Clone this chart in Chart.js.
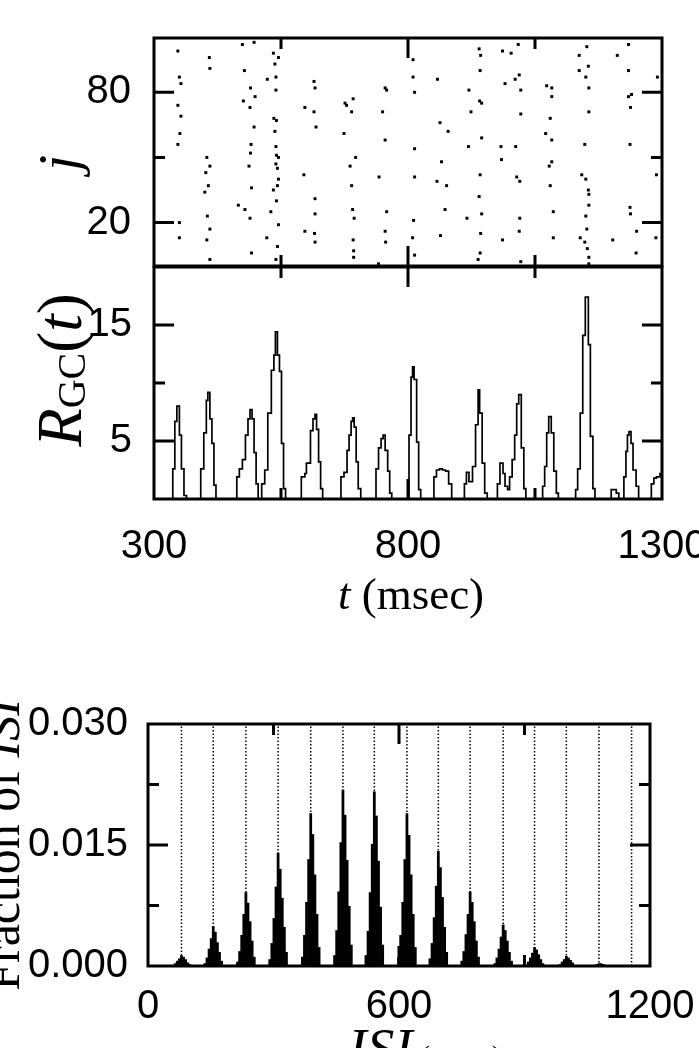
<!DOCTYPE html>
<html>
<head>
<meta charset="utf-8">
<script src="https://cdn.jsdelivr.net/npm/chart.js@4.4.1/dist/chart.umd.min.js"></script>
<style>
  html, body { margin: 0; padding: 0; background: #fff; }
  #page { position: relative; width: 699px; height: 1048px; overflow: hidden; }
  canvas { position: absolute; left: 0; }
</style>
</head>
<body>
<div id="page">
  <canvas id="c-raster" width="699" height="270" style="top:0"></canvas>
  <canvas id="c-rate" width="699" height="400" style="top:240px"></canvas>
  <canvas id="c-isi" width="699" height="358" style="top:690px"></canvas>
</div>
<script>
// ─── axis ranges and ticks ────────────────────────────────────────────────
const tRange      = [300, 1300];
const jRange      = [0, 105];
const rRange      = [0, 20];
const isiRange    = [0, 1200];
const fracRange   = [0, 0.03];

const tTickLabels    = [300, 800, 1300];
const tMinorTicks    = [550, 1050];
const jTickLabels    = [20, 80];
const jMinorTicks    = [50];
const rTickLabels    = [5, 15];
const rMinorTicks    = [10];
const isiTickLabels  = [0, 600, 1200];
const isiMinorTicks  = [300, 900];
const fracTickLabels = [0, 0.015, 0.03];
const fracMinorTicks = [0.0075, 0.0225];

// ─── raster: [t (msec), neuron j] ─────────────────────────────────────────
const spikes = [
  [347,99],[350,87],[353,84],[347,74],[353,69],[351,61],[347,56],[350,20],[350,13],
  [409,96],[410,91],[404,50],[410,46],[402,43],[407,37],[400,34],[405,23],[410,17],[404,12],[410,3],
  [474,102],[497,103],[478,90],[490,82],[499,78],[476,76],[489,73],[497,64],[491,56],[490,52],
  [487,46],[492,36],[466,28],[479,26],[489,22],[492,6],
  [535,98],[545,96],[538,93],[523,86],[540,87],[540,81],[536,68],[541,67],[538,62],[540,55],
  [541,51],[545,50],[540,47],[543,45],[545,40],[535,35],[543,37],[541,30],[530,25],[545,19],
  [522,13],[543,9],[540,3],
  [615,85],[617,82],[597,73],[615,71],[619,64],[595,42],[617,31],[617,24],[597,16],[616,15],[617,11],
  [692,77],[676,75],[679,74],[689,71],[674,61],[697,50],[686,46],[689,37],[691,26],[694,22],
  [692,12],[693,7],[693,4],
  [755,82],[758,81],[750,71],[755,58],[743,41],[758,25],[755,16],[756,11],[742,1],
  [810,95],[810,87],[813,80],[813,54],[813,41],[811,21],[809,13],[813,5],
  [858,86],[863,66],[879,62],[866,48],[857,39],[876,37],[873,26],[864,14],
  [940,100],[943,97],[942,90],[920,81],[941,76],[945,75],[924,71],[945,59],[919,55],[942,42],
  [940,32],[945,24],[916,22],[943,15],[942,6],[938,3],
  [986,99],[1003,98],[1017,102],[1019,88],[1011,86],[991,84],[1022,81],[1022,70],[983,55],[1012,55],
  [984,49],[1014,41],[1020,39],[1020,22],[1019,16],[986,12],[1022,2],
  [1073,83],[1083,82],[1083,78],[1080,68],[1071,61],[1083,58],[1083,48],[1078,46],[1080,37],
  [1086,25],[1086,13],
  [1152,101],[1137,97],[1155,92],[1137,90],[1150,87],[1156,82],[1156,71],[1148,56],[1142,42],
  [1150,40],[1155,35],[1156,33],[1156,28],[1150,23],[1152,17],[1139,13],[1148,11],[1153,8],
  [1156,4],[1156,1],
  [1234,102],[1212,97],[1234,90],[1234,78],[1240,79],[1238,73],[1237,56],[1237,27],[1238,24],
  [1203,12],[1250,16],[1249,6],
  [1291,87],[1289,42],[1288,13]
];

// ─── R_GC(t): [t, value held until next t] ────────────────────────────────
const rate = [
  [300,0],
  [337,2.6],[341,6.7],[345,8.0],[350,5.5],[354,2.6],[359,0.3],[364,0],
  [392,2.6],[398,5.7],[403,8.5],[406,9.2],[410,6.9],[414,4.8],[418,1.2],[422,0],
  [463,1.9],[468,2.6],[474,3.4],[480,5.5],[485,6.9],[489,7.7],[493,6.9],[497,4.0],[501,1.3],[505,0],
  [512,1.3],[518,2.5],[524,7.4],[531,11.1],[536,12.4],[539,14.4],[543,12.4],[547,11.0],[551,4.8],[555,0.9],[559,0],
  [590,1.9],[597,2.2],[600,3.1],[608,5.9],[613,6.9],[617,7.3],[620,6.0],[624,3.2],[628,0.9],[632,0],
  [668,1.9],[674,2.3],[680,4.2],[684,5.5],[688,6.7],[691,7.0],[694,6.2],[698,3.2],[702,0.9],[707,0],
  [737,2.6],[742,4.4],[747,5.2],[751,5.5],[755,4.2],[760,2.4],[764,0.5],[768,0],
  [802,5.5],[806,10.5],[809,11.4],[812,10.3],[817,4.9],[821,0.8],[825,0],
  [851,1.9],[856,2.5],[862,2.6],[868,2.5],[874,2.4],[880,1.3],[886,0],
  [911,1.3],[915,2.3],[920,1.5],[927,2.8],[933,6.4],[938,9.4],[941,7.4],[946,3.1],[951,0.5],[956,0],
  [976,1.3],[981,3.1],[987,2.2],[991,1.1],[996,0.8],[1000,1.9],[1005,3.4],[1010,5.5],[1014,8.2],
  [1018,9.0],[1023,4.4],[1028,0.9],[1032,0],
  [1065,1.1],[1069,2.8],[1073,5.7],[1077,7.1],[1082,5.7],[1087,2.4],[1092,0.5],[1096,0],
  [1130,0.8],[1134,2.6],[1139,7.4],[1144,14.1],[1149,17.4],[1155,13.3],[1159,5.4],[1164,0.9],[1168,0],
  [1200,0.8],[1210,0.5],[1215,0],
  [1225,1.9],[1229,4.1],[1232,5.5],[1235,5.8],[1239,4.8],[1243,2.5],[1249,1.1],[1254,0],
  [1279,1.3],[1284,1.8],[1289,1.9],[1296,2.2],[1300,2.2]
];

// ─── ISI histogram ────────────────────────────────────────────────────────
const periodLines    = [80, 156, 234, 311, 389, 466, 541, 619, 694, 770, 849, 924, 1000, 1078, 1156];
const isiPeakCenters = [80, 156, 234, 311, 389, 466, 541, 619, 694, 770, 849, 924, 1000, 1078];
const isiBinOffsets  = [-20, -15, -10, -5, 0, 5, 10, 15, 20];
const isiFractions = [
  [0.0001, 0.0003, 0.0006, 0.0009, 0.0013, 0.0011, 0.0008, 0.0004, 0.0002],
  [0.0003, 0.0010, 0.0021, 0.0034, 0.0049, 0.0042, 0.0029, 0.0017, 0.0006],
  [0.0005, 0.0018, 0.0038, 0.0064, 0.0091, 0.0078, 0.0055, 0.0031, 0.0011],
  [0.0008, 0.0028, 0.0059, 0.0098, 0.0140, 0.0120, 0.0084, 0.0048, 0.0017],
  [0.0011, 0.0038, 0.0079, 0.0132, 0.0189, 0.0163, 0.0113, 0.0064, 0.0023],
  [0.0013, 0.0044, 0.0092, 0.0153, 0.0218, 0.0187, 0.0131, 0.0074, 0.0026],
  [0.0013, 0.0043, 0.0091, 0.0151, 0.0216, 0.0186, 0.0130, 0.0073, 0.0026],
  [0.0011, 0.0038, 0.0079, 0.0132, 0.0189, 0.0162, 0.0113, 0.0064, 0.0023],
  [0.0009, 0.0028, 0.0060, 0.0099, 0.0142, 0.0122, 0.0085, 0.0048, 0.0017],
  [0.0006, 0.0018, 0.0039, 0.0064, 0.0092, 0.0079, 0.0055, 0.0031, 0.0011],
  [0.0003, 0.0010, 0.0021, 0.0036, 0.0051, 0.0044, 0.0031, 0.0017, 0.0006],
  [0.0001, 0.0005, 0.0010, 0.0016, 0.0023, 0.0020, 0.0014, 0.0008, 0.0003],
  [0.0001, 0.0002, 0.0005, 0.0008, 0.0012, 0.0010, 0.0007, 0.0004, 0.0001],
  [0.0000, 0.0001, 0.0001, 0.0002, 0.0003, 0.0003, 0.0002, 0.0001, 0.0000]
];

// ─── shared helpers ───────────────────────────────────────────────────────
const SANS  = '"Liberation Sans", Arial, sans-serif';
const SERIF = '"Liberation Serif", "Times New Roman", serif';
const tickFont = { family: SANS, size: 40, lineHeight: 1.2 };

// frame + inward ticks on all four sides (gnuplot style)
function framePlugin(cfg) {
  return {
    id: 'frame',
    afterDatasetsDraw(chart) {
      const { ctx, chartArea: a, scales: { x, y } } = chart;
      ctx.save();
      ctx.strokeStyle = '#000';
      ctx.lineWidth = 3;
      ctx.strokeRect(a.left, a.top, a.right - a.left, a.bottom - a.top);
      ctx.beginPath();
      const xt = (vals, len) => vals.forEach(v => {
        if (v <= x.min || v >= x.max) return;
        const px = x.getPixelForValue(v);
        ctx.moveTo(px, a.bottom); ctx.lineTo(px, a.bottom - len);
        ctx.moveTo(px, a.top);    ctx.lineTo(px, a.top + len);
      });
      const yt = (vals, len) => vals.forEach(v => {
        if (v <= y.min || v >= y.max) return;
        const py = y.getPixelForValue(v);
        ctx.moveTo(a.left, py);  ctx.lineTo(a.left + len, py);
        ctx.moveTo(a.right, py); ctx.lineTo(a.right - len, py);
      });
      xt(cfg.xMajor, 20); xt(cfg.xMinor, 11);
      yt(cfg.yMajor, 20); yt(cfg.yMinor, 11);
      ctx.stroke();
      ctx.restore();
    }
  };
}

// axis titles with mixed italic / subscript pieces
function titlePlugin(items) {
  return {
    id: 'richTitles',
    afterDraw(chart) {
      const ctx = chart.ctx;
      items.forEach(it => {
        ctx.save();
        ctx.translate(it.x, it.y);
        if (it.rotate) ctx.rotate(it.rotate * Math.PI / 180);
        ctx.fillStyle = '#000';
        ctx.textAlign = 'left';
        ctx.textBaseline = 'alphabetic';
        let w = 0;
        it.parts.forEach(p => { ctx.font = p.font; w += ctx.measureText(p.text).width; });
        let cx = -w / 2;
        it.parts.forEach(p => {
          ctx.font = p.font;
          ctx.fillText(p.text, cx, p.dy || 0);
          cx += ctx.measureText(p.text).width;
        });
        ctx.restore();
      });
    }
  };
}

function yAxis(range, labels, width, pad, fmt) {
  return {
    type: 'linear', min: range[0], max: range[1],
    grid: { display: false, drawTicks: false }, border: { display: false },
    afterBuildTicks: s => { s.ticks = labels.map(v => ({ value: v })); },
    afterFit: s => { s.width = width; s.paddingTop = 0; s.paddingBottom = 0; },
    ticks: { color: '#000', padding: pad, font: tickFont,
             callback: fmt || (v => String(v)) }
  };
}

function xAxis(range, labels, height, pad) {
  return {
    type: 'linear', min: range[0], max: range[1], offset: false,
    grid: { display: false, drawTicks: false }, border: { display: false },
    afterBuildTicks: s => { s.ticks = labels.map(v => ({ value: v })); },
    afterFit: s => { s.height = height; s.paddingLeft = 0; s.paddingRight = 0; },
    ticks: { color: '#000', padding: pad, maxRotation: 0, autoSkip: false, font: tickFont,
             callback: v => String(v) }
  };
}

const baseOpts = {
  responsive: false,
  animation: false,
  events: [],
  plugins: { legend: { display: false }, tooltip: { enabled: false } }
};

// ─── raster plot ──────────────────────────────────────────────────────────
new Chart(document.getElementById('c-raster'), {
  type: 'scatter',
  data: {
    datasets: [{
      data: spikes.map(([t, j]) => ({ x: t, y: j })),
      pointStyle: 'rect', pointRadius: 2.1, backgroundColor: '#000', borderWidth: 0
    }]
  },
  options: {
    ...baseOpts,
    layout: { padding: { top: 38, right: 37, bottom: 3, left: 0 } },
    scales: {
      x: { type: 'linear', min: tRange[0], max: tRange[1], display: false },
      y: yAxis(jRange, jTickLabels, 154, 23)
    }
  },
  plugins: [
    framePlugin({ xMajor: tTickLabels, xMinor: tMinorTicks, yMajor: jTickLabels, yMinor: jMinorTicks }),
    titlePlugin([
      { x: 78, y: 163, rotate: -90, parts: [{ text: 'j', font: `italic 58px ${SERIF}` }] }
    ])
  ]
});

// ─── global rate R_GC(t) ──────────────────────────────────────────────────
new Chart(document.getElementById('c-rate'), {
  type: 'line',
  data: {
    datasets: [{
      data: rate.map(([t, r]) => ({ x: t, y: r })),
      stepped: 'before', borderColor: '#000', borderWidth: 1.7,
      pointRadius: 0, fill: false
    }]
  },
  options: {
    ...baseOpts,
    layout: { padding: { top: 27, right: 37, bottom: 0, left: 0 } },
    scales: {
      x: xAxis(tRange, tTickLabels, 141, 24),
      y: yAxis(rRange, rTickLabels, 154, 22)
    }
  },
  plugins: [
    framePlugin({ xMajor: tTickLabels, xMinor: tMinorTicks, yMajor: rTickLabels, yMinor: rMinorTicks }),
    titlePlugin([
      { x: 81, y: 130, rotate: -90, parts: [
        { text: 'R', font: `italic 63px ${SERIF}` },
        { text: 'GC', font: `40px ${SERIF}`, dy: 4 },
        { text: '(', font: `63px ${SERIF}` },
        { text: 't', font: `italic 63px ${SERIF}` },
        { text: ')', font: `63px ${SERIF}` }
      ] },
      { x: 411, y: 369, parts: [
        { text: 't', font: `italic 45px ${SERIF}` },
        { text: ' (msec)', font: `45px ${SERIF}` }
      ] }
    ])
  ]
});

// ─── ISI histogram ────────────────────────────────────────────────────────
const isiBars = [];
isiPeakCenters.forEach((c, i) =>
  isiBinOffsets.forEach((o, k) => isiBars.push({ x: c + o, y: isiFractions[i][k] })));

const periodSets = periodLines.map(v => ({
  type: 'line',
  data: [{ x: v, y: fracRange[0] }, { x: v, y: fracRange[1] }],
  borderColor: '#000', borderWidth: 1.5, borderDash: [1.5, 2],
  pointRadius: 0, fill: false, order: 2
}));

new Chart(document.getElementById('c-isi'), {
  type: 'bar',
  data: {
    datasets: [
      { data: isiBars, backgroundColor: '#000', borderWidth: 0,
        barPercentage: 1, categoryPercentage: 1, order: 1 },
      ...periodSets
    ]
  },
  options: {
    ...baseOpts,
    layout: { padding: { top: 34, right: 49, bottom: 0, left: 0 } },
    scales: {
      x: xAxis(isiRange, isiTickLabels, 82, 17),
      y: yAxis(fracRange, fracTickLabels, 148, 20, v => Number(v).toFixed(3))
    }
  },
  plugins: [
    framePlugin({ xMajor: isiTickLabels, xMinor: isiMinorTicks, yMajor: fracTickLabels, yMinor: fracMinorTicks }),
    titlePlugin([
      { x: 19, y: 155, rotate: -90, parts: [
        { text: 'Fraction of ', font: `50px ${SERIF}` },
        { text: 'ISI', font: `italic 50px ${SERIF}` }
      ] },
      { x: 425, y: 376, parts: [
        { text: 'ISI', font: `italic 55px ${SERIF}` },
        { text: ' (msec)', font: `30px ${SERIF}` }
      ] }
    ])
  ]
});
</script>
</body>
</html>
